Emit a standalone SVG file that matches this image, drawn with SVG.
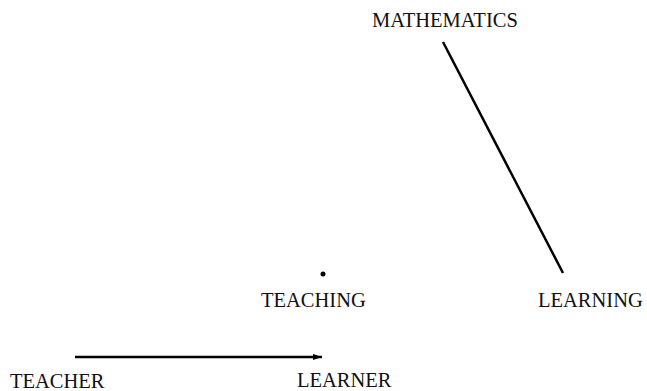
<svg xmlns="http://www.w3.org/2000/svg" width="647" height="391" viewBox="0 0 647 391">
<style>
text{font-family:"Liberation Serif","Times New Roman",serif;font-size:20.5px;fill:#111}
.c{stroke:#000;stroke-width:2.5;fill:none}
</style>
<defs>
<marker id="ah" markerWidth="10" markerHeight="8" refX="9" refY="4" orient="auto" markerUnits="userSpaceOnUse">
<path d="M0,1 L9,4 L0,7 Z" fill="#000"/>
</marker>
</defs>
<rect width="647" height="391" fill="#fff"/>
<g id="connectors">
<line class="c" x1="443" y1="42" x2="563" y2="273"/>
<line class="c" x1="75" y1="357" x2="322" y2="357" marker-end="url(#ah)"/>
</g>
<g id="mathematics"><text x="372" y="27">MATHEMATICS</text></g>
<g id="teaching"><circle cx="323" cy="274" r="2.5" fill="#000"/><text x="261" y="307">TEACHING</text></g>
<g id="learning"><text x="538" y="307">LEARNING</text></g>
<g id="teacher"><text x="10" y="388">TEACHER</text></g>
<g id="learner"><text x="297" y="387">LEARNER</text></g>
</svg>
